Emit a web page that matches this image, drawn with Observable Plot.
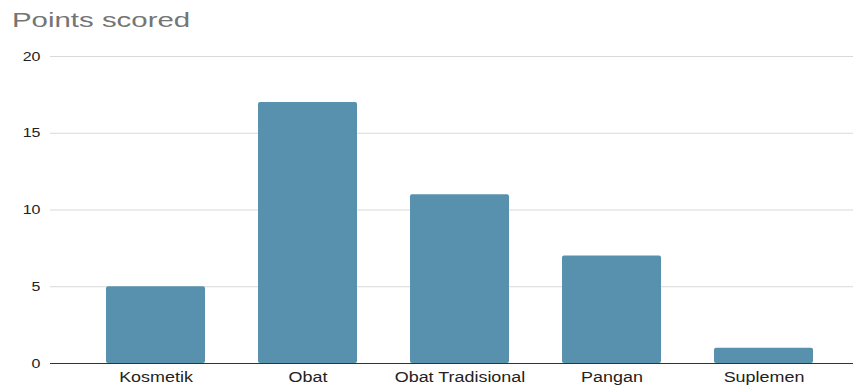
<!DOCTYPE html>
<html>
<head>
<meta charset="utf-8">
<script src="https://cdn.jsdelivr.net/npm/d3@7"></script>
<script src="https://cdn.jsdelivr.net/npm/@observablehq/plot@0.6"></script>
<style>
  html, body { margin: 0; padding: 0; background: #fff; }
  #wrap { width: 853px; height: 385px; font-family: "Liberation Sans", Arial, sans-serif; }
  #title { height: 40px; box-sizing: border-box; padding: 8px 0 0 12px; font-size: 21px; line-height: 24px; color: #757575; white-space: nowrap; }
  #title span { display: inline-block; transform: scaleX(1.4); transform-origin: 0 50%; }
</style>
</head>
<body>
<div id="wrap">
  <div id="title"><span>Points scored</span></div>
  <div id="chart"></div>
</div>
<script>
const categories = ["Kosmetik", "Obat", "Obat Tradisional", "Pangan", "Suplemen"];
const points = [5, 17, 11, 7, 1];
const yTicks = [0, 5, 10, 15, 20];

const data = categories.map((c, i) => ({category: c, value: points[i]}));

const chart = Plot.plot({
  width: 853,
  height: 345,
  marginTop: 16,
  marginBottom: 22,
  marginLeft: 50,
  marginRight: 0,
  style: {fontFamily: "Liberation Sans, Arial, sans-serif", fontSize: "13px", color: "#222", background: "#fff", overflow: "visible"},
  x: {domain: categories, paddingInner: 0.35, paddingOuter: 0.3, align: 0.58, label: null},
  y: {domain: [0, 20], label: null},
  marks: [
    Plot.ruleY(yTicks.filter(d => d > 0), {stroke: "#d9d9d9", strokeWidth: 1}),
    Plot.barY(data, {x: "category", y: "value", fill: "#5891ae", rx: 2}),
    Plot.ruleY([0], {stroke: "#333", strokeWidth: 1}),
    Plot.axisY({ticks: yTicks, tickSize: 0, tickPadding: 10, fontSize: 12.5}),
    Plot.axisX({tickSize: 0, tickPadding: 9, fontSize: 14})
  ]
});
document.getElementById("chart").appendChild(chart);
// widen glyphs horizontally like the reference rendering
d3.select(chart).selectAll("text").each(function() {
  const w = this.getComputedTextLength();
  if (w > 0) {
    this.setAttribute("textLength", (w * 1.28).toFixed(1));
    this.setAttribute("lengthAdjust", "spacingAndGlyphs");
  }
});
</script>
</body>
</html>
